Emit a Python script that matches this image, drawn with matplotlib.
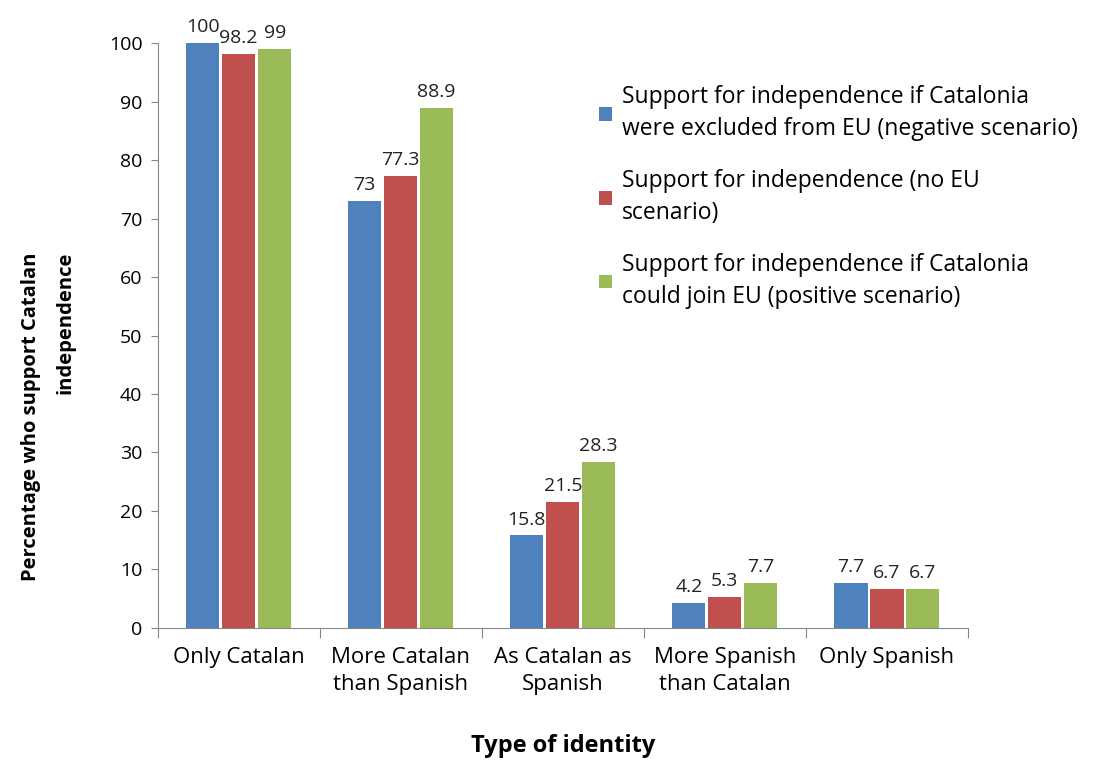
import numpy as np
import matplotlib.pyplot as plt

# Data
categories = ['Only Catalan', 'More Catalan\nthan Spanish', 'As Catalan as\nSpanish',
              'More Spanish\nthan Catalan', 'Only Spanish']
negative = [100, 73, 15.8, 4.2, 7.7]
no_eu = [98.2, 77.3, 21.5, 5.3, 6.7]
positive = [99, 88.9, 28.3, 7.7, 6.7]

series_names = [
    'Support for independence if Catalonia\nwere excluded from EU (negative scenario)',
    'Support for independence (no EU\nscenario)',
    'Support for independence if Catalonia\ncould join EU (positive scenario)',
]
colors = ['#4F81BD', '#C0504D', '#9BBB59']

plt.rcParams['font.family'] = ['Open Sans', 'DejaVu Sans']


def main():
    fig = plt.figure(figsize=(11.1, 7.61), dpi=100)
    ax = fig.add_axes([0.142, 0.175, 0.73, 0.768])

    x = np.arange(len(categories))
    width = 0.205
    step = 0.222
    for i, (vals, name, col) in enumerate(zip([negative, no_eu, positive], series_names, colors)):
        bars = ax.bar(x + (i - 1) * step, vals, width, color=col, label=name, zorder=3)
        ax.bar_label(bars, labels=[f'{v:g}' for v in vals], padding=5, fontsize=14,
                     color='#222222')

    ax.set_xlim(-0.5, len(categories) - 0.5)
    ax.set_ylim(0, 100)
    ax.set_yticks(range(0, 101, 10))
    ax.tick_params(axis='y', labelsize=14, length=5, color='#888888', pad=6)

    # x ticks between categories, labels centred
    ax.set_xticks(np.arange(-0.5, len(categories), 1.0))
    ax.set_xticklabels([])
    ax.set_xticks(x, minor=True)
    ax.set_xticklabels(categories, minor=True, fontsize=16, linespacing=1.35)
    ax.tick_params(axis='x', which='major', length=7, color='#888888')
    ax.tick_params(axis='x', which='minor', length=0, pad=14)

    for side in ['top', 'right']:
        ax.spines[side].set_visible(False)
    for side in ['left', 'bottom']:
        ax.spines[side].set_color('#888888')

    ax.set_ylabel('Percentage who support Catalan\nindependence', fontsize=14.5,
                  fontweight='bold', linespacing=2.0, multialignment='right')
    ax.yaxis.set_label_coords(-0.101, 0.362)
    ax.set_xlabel('Type of identity', fontsize=17, fontweight='bold', labelpad=28)

    fig.legend(loc='upper left', bbox_to_anchor=(0.521, 0.915), frameon=False,
               fontsize=16.5, handlelength=0.55, handleheight=0.55, handletextpad=0.45,
               labelspacing=1.2)
    for t in fig.legends[0].get_texts():
        t.set_linespacing(1.45)

    fig.savefig('out.png', dpi=100)


if __name__ == "__main__":
    main()
